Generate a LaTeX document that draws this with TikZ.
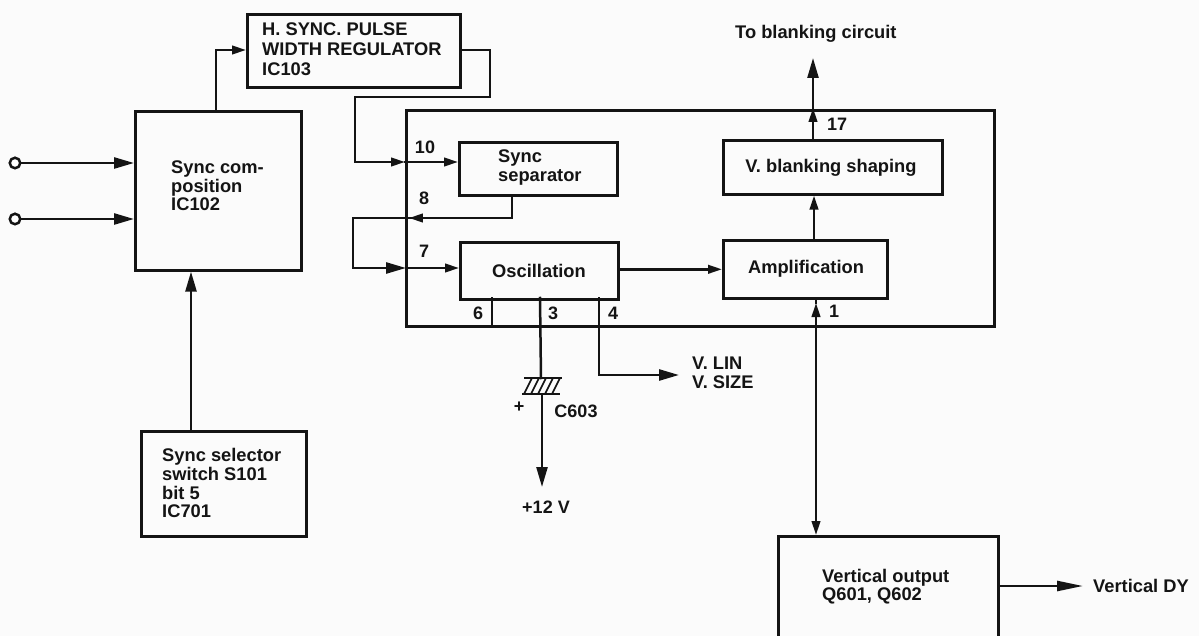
\documentclass[tikz,border=0pt]{standalone}
\usepackage{fontspec}
\setmainfont{Liberation Sans}
\usetikzlibrary{arrows.meta,calc,decorations.markings}
\tikzset{
 x=1pt,y=-1pt,
 blockbox/.style={draw=inkc,line width=2.6pt,fill=white,inner sep=0pt,anchor=north west},
 lbl/.style={text=inkc,font=\fontsize{18.3}{18.4}\selectfont\bfseries,align=left,inner sep=0pt},
 pinlbl/.style={text=inkc,font=\fontsize{18}{19}\selectfont\bfseries,inner sep=0pt},
 wire/.style={draw=inkc,line width=2.5pt,line join=miter,line cap=rect},
 tip/.style={-{Triangle[length=20pt,width=11pt,color=inkc]}},
 stip/.style={-{Triangle[length=14pt,width=8.5pt,color=inkc]}},
 midtip/.style={postaction={decorate},decoration={markings,mark=at position #1 with {\arrow{Triangle[length=14pt,width=8.5pt,color=inkc]}}}},
 term/.style={circle,draw=inkc,line width=2.5pt,fill=white,minimum size=10.5pt,inner sep=0pt},
}
\definecolor{inkc}{gray}{0.08}
\definecolor{paperc}{gray}{0.985}
\begin{document}
\begin{tikzpicture}
\useasboundingbox[fill=paperc] (0,0) rectangle (1199,636);
% blocks
\node[blockbox,minimum width=166pt,minimum height=159pt,fill=paperc] (comp) at (134,110) {};
\node[blockbox,minimum width=213pt,minimum height=73pt,fill=paperc] (hsync) at (246,13) {};
\node[blockbox,minimum width=588pt,minimum height=216pt,fill=none] (ic) at (405,109) {};
\node[blockbox,minimum width=158pt,minimum height=53pt,fill=paperc] (sep) at (458,141) {};
\node[blockbox,minimum width=158pt,minimum height=57pt,fill=paperc] (osc) at (459,241) {};
\node[blockbox,minimum width=219pt,minimum height=54pt,fill=paperc] (blank) at (722,139) {};
\node[blockbox,minimum width=164pt,minimum height=58pt,fill=paperc] (amp) at (722,239) {};
\node[blockbox,minimum width=165pt,minimum height=105pt,fill=paperc] (sel) at (140,430) {};
\node[blockbox,minimum width=220pt,minimum height=110pt,fill=paperc] (vout) at (777,535) {};
% block text
\node[lbl,anchor=north west] (t1) at (171,161) {Sync com-\\position\\IC102};
\node[lbl,anchor=north west,font=\fontsize{18.3}{20}\selectfont\bfseries] (t2) at (262,23) {H. SYNC. PULSE\\WIDTH REGULATOR\\IC103};
\node[lbl,anchor=north west] (t3) at (498,150) {Sync\\separator};
\node[lbl,anchor=center] (t4) at (539,271) {Oscillation};
\node[lbl,anchor=center] (t5) at (831,168) {V. blanking shaping};
\node[lbl,anchor=center] (t6) at (806,269) {Amplification};
\node[lbl,anchor=north west,font=\fontsize{18.3}{18.8}\selectfont\bfseries] (t7) at (162,448) {Sync selector\\switch S101\\bit 5\\IC701};
\node[lbl,anchor=north west] (t8) at (822,569) {Vertical output\\Q601, Q602};
% terminals
\node[term] (in1) at (15,163) {};
\node[term] (in2) at (15,219) {};
\draw[wire,tip] (in1) -- (comp.west |- in1);
\draw[wire,tip] (in2) -- (comp.west |- in2);
% selector to composition
\coordinate (s1) at (191,430);
\draw[wire,tip] (s1) -- (s1 |- comp.south);
% comp to hsync
\coordinate (h1) at (216,50);
\draw[wire,stip] (h1 |- comp.north) -- (h1) -- (hsync.west |- h1);
% hsync to sep
\coordinate (a1) at (490,50);
\coordinate (a2) at (490,97);
\coordinate (a3) at (355,97);
\coordinate (a4) at (355,162);
\coordinate (a5) at (405,162);
\draw[wire] (hsync.east |- a1) -- (a1) -- (a2) -- (a3) -- (a4);
\draw[wire,stip] (a4) -- (a5);
\draw[wire,stip] (a5) -- (sep.west |- a4);
% sep to osc
\coordinate (b1) at (512,218);
\coordinate (b2) at (353,218);
\coordinate (b3) at (353,268);
\coordinate (b4) at (406,268);
\draw[wire,midtip=0.54] (sep.south -| b1) -- (b1) -- (b2) -- (b3);
\draw[wire,tip] (b3) -- (b4);
\draw[wire,stip] (b4) -- (osc.west |- b3);
% chain
\draw[wire,stip] (osc.east |- amp.west) -- (amp.west);
\coordinate (g1) at (814,193);
\draw[wire,stip] (g1 |- amp.north) -- (g1 |- blank.south);
\coordinate (c1) at (813,58);
\coordinate (c2) at (813,108);
\draw[wire,tip] (c1 |- blank.north) -- (c1);
\draw[wire,stip] (c1 |- blank.north) -- (c2);
% amp to vout
\coordinate (v1) at (816,325);
\coordinate (v2) at (816,303);
\draw[wire,stip] (v1) -- (v2);
\draw[wire] (v2) -- (v2 |- amp.south);
\draw[wire,stip] (v1) -- (v1 |- vout.north);
% vout to DY
\coordinate (d1) at (1083,586);
\draw[wire,-{Triangle[length=26pt,width=10pt,color=inkc]}] (vout.east |- d1) -- (d1);
\node[lbl,anchor=west] (t9) at (1093,586) {Vertical DY};
\node[lbl,anchor=west] (t10) at (735,34) {To blanking circuit};
% osc pins
\draw[wire] (492,298) -- (492,325);
\coordinate (e1) at (540,298);
\coordinate (e2) at (541,378);
\coordinate (e3) at (542,394);
\coordinate (e4) at (542,487);
\draw[wire] (e1) -- (e2);
\draw[wire,tip] (e3) -- (e4);
\draw[wire,line width=2.6pt] (525,378) -- (561,378);
\draw[wire,line width=2.6pt] (523,394) -- (559,394);
\foreach \x in {524,531,538,545,552} \draw[draw=inkc,line width=1.6pt] (\x,394) -- (\x+8,378);
\coordinate (f1) at (599,298);
\coordinate (f2) at (599,375);
\coordinate (f3) at (679,375);
\draw[wire] (f1) -- (f2);
\draw[wire,tip] (f2) -- (f3);
\node[lbl,anchor=north west,font=\fontsize{18.3}{19}\selectfont\bfseries] (t11) at (692,357) {V. LIN\\V. SIZE};
\node[pinlbl] (c603) at (576,411) {C603};
\node[pinlbl] (plus) at (519,407) {+};
\node[pinlbl] (v12) at (546,507) {+12 V};
% pin numbers
\node[pinlbl] (p10) at (425,147) {10};
\node[pinlbl] (p8) at (424,198) {8};
\node[pinlbl] (p7) at (424,251) {7};
\node[pinlbl] (p6) at (478,313) {6};
\node[pinlbl] (p3) at (553,313) {3};
\node[pinlbl] (p4) at (613,313) {4};
\node[pinlbl] (p1) at (834,311) {1};
\node[pinlbl] (p17) at (837,124) {17};
\end{tikzpicture}
\end{document}
